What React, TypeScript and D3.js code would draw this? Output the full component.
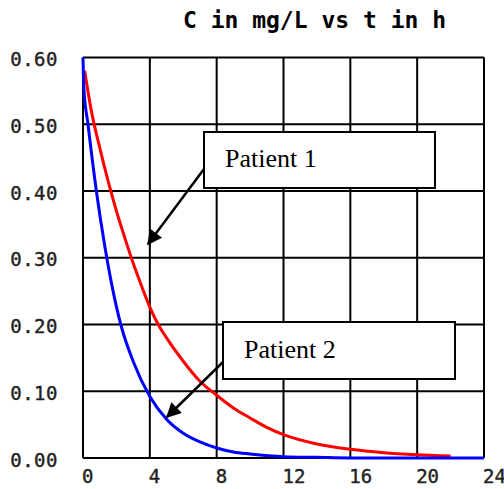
import React from "react";
import * as d3 from "d3";

const title = "C in mg/L vs t in h";
const xTicks = [0, 4, 8, 12, 16, 20, 24];
const yTicks = [0, 0.1, 0.2, 0.3, 0.4, 0.5, 0.6];

const patient1T = [0.1, 0.5, 1, 1.5, 2, 2.5, 3, 3.5, 4, 4.5, 5, 6, 7, 8, 9, 10, 11, 12, 14, 16, 18, 20, 22];
const patient1C = [0.58, 0.52, 0.465, 0.415, 0.37, 0.33, 0.292, 0.258, 0.226, 0.2, 0.18, 0.145, 0.115, 0.094, 0.075, 0.06, 0.046, 0.035, 0.021, 0.013, 0.008, 0.005, 0.003];

const patient2T = [0, 0.05, 0.3, 0.8, 1.3, 1.8, 2.26, 3, 4, 5, 6, 7, 8, 9, 10, 12, 14, 16, 20, 24];
const patient2C = [0.6, 0.555, 0.5, 0.4, 0.318, 0.25, 0.2, 0.145, 0.092, 0.058, 0.037, 0.024, 0.015, 0.009, 0.006, 0.002, 0.001, 0.0, 0.0, 0.0];

const labels = ["Patient 1", "Patient 2"];

export default function App() {
  const W = 504, H = 489;
  const left = 83, right = 484, top = 57.5, bottom = 458;
  const x = d3.scaleLinear().domain([0, 24]).range([left, right]);
  const y = d3.scaleLinear().domain([0, 0.6]).range([bottom, top]);

  const line = d3
    .line<[number, number]>()
    .x((d) => x(d[0]))
    .y((d) => y(d[1]))
    .curve(d3.curveMonotoneX);

  const p1 = line(patient1T.map((t, i) => [t, patient1C[i]] as [number, number])) || "";
  const p2 = line(patient2T.map((t, i) => [t, patient2C[i]] as [number, number])) || "";

  const mono = "'DejaVu Sans Mono', monospace";
  const serif = "'Liberation Serif', 'Times New Roman', serif";

  return (
    <svg
      width={W}
      height={H}
      style={{ position: "absolute", left: 0, top: 0, background: "#fff" }}
    >
      <defs>
        <marker id="ah" viewBox="0 0 10 10" refX="9" refY="5" markerWidth="7.5" markerHeight="6" markerUnits="strokeWidth" orient="auto">
          <path d="M0,0 L10,5 L0,10 z" fill="#000" />
        </marker>
      </defs>
      <rect x={0} y={0} width={W} height={H} fill="#fff" />
      <text x={314.5} y={28} textAnchor="middle" fontFamily={mono} fontWeight="bold" fontSize={23} fill="#000">
        {title}
      </text>
      {xTicks.map((t) => (
        <line key={"gx" + t} x1={x(t)} x2={x(t)} y1={top} y2={bottom} stroke="#000" strokeWidth={2} />
      ))}
      {yTicks.map((v) => (
        <line key={"gy" + v} x1={left} x2={right} y1={y(v)} y2={y(v)} stroke="#000" strokeWidth={2} />
      ))}
      {yTicks.map((v) => (
        <text key={"ly" + v} x={58} y={y(v) + 8.5} textAnchor="end" fontFamily={mono} fontSize={19} letterSpacing={0.5} fill="#222" stroke="#222" strokeWidth={0.4}>
          {v.toFixed(2)}
        </text>
      ))}
      {xTicks.map((t) => (
        <text key={"lx" + t} x={x(t) - 1} y={483} textAnchor="start" fontFamily={mono} fontSize={19} fill="#222" stroke="#222" strokeWidth={0.4}>
          {t}
        </text>
      ))}
      <path d={p1} fill="none" stroke="#ff0000" strokeWidth={3} />
      <path d={p2} fill="none" stroke="#0000ff" strokeWidth={3} />

      <rect x={204} y={132} width={231} height={56} fill="#fff" stroke="#000" strokeWidth={2} />
      <text x={225} y={167} fontFamily={serif} fontSize={26} fill="#000">{labels[0]}</text>
      <line x1={204} y1={169} x2={148} y2={244} stroke="#000" strokeWidth={2.5} markerEnd="url(#ah)" />

      <rect x={223} y={322} width={232} height={57} fill="#fff" stroke="#000" strokeWidth={2} />
      <text x={244} y={358} fontFamily={serif} fontSize={26} fill="#000">{labels[1]}</text>
      <line x1={223} y1={362} x2={167} y2={417} stroke="#000" strokeWidth={2.5} markerEnd="url(#ah)" />
    </svg>
  );
}
